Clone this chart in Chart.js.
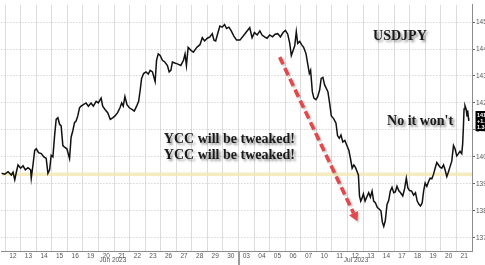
<!DOCTYPE html>
<html><head><meta charset="utf-8">
<script src="https://cdn.jsdelivr.net/npm/chart.js@4/dist/chart.umd.min.js"></script>
<style>html,body{margin:0;padding:0;background:#fff;overflow:hidden}#c{display:block}</style>
</head><body>
<canvas id="c" width="485" height="265"></canvas>
<script>
// ---- data (x = trading-day index, 0 = Jun 12; y = USDJPY) ----
const dayLabels = ['12','13','14','15','16','19','20','21','22','23','26','27','28','29','30',
                   '03','04','05','06','07','10','11','12','13','14','17','18','19','20','21'];
const monthLabels = ['Jun 2023','Jul 2023'];
const monthAt = [6.93, 22.55];
const monthBreak = 15;
const yTicks = [137,138,139,140,141,142,143,144,145];
const priceX = [-0.24,-0.02,0.19,0.40,0.51,0.62,0.72,0.83,1.00,1.15,
1.30,1.47,1.64,1.68,1.79,1.90,2.00,2.15,2.32,2.49,
2.64,2.75,2.86,2.96,3.07,3.18,3.28,3.39,3.50,3.60,
3.71,3.82,3.97,4.14,4.24,4.35,4.46,4.56,4.67,4.78,
4.88,5.03,5.20,5.35,5.52,5.67,5.85,5.99,6.17,6.27,
6.42,6.59,6.76,6.91,7.06,7.23,7.38,7.49,7.59,7.70,
7.83,7.98,8.15,8.30,8.45,8.58,8.68,8.77,8.90,9.05,
9.20,9.32,9.47,9.58,9.64,9.73,9.84,9.96,10.11,10.26,
10.43,10.54,10.65,10.75,10.90,11.07,11.29,11.46,11.56,11.65,
11.76,11.93,12.10,12.31,12.52,12.67,12.82,12.99,13.16,13.31,
13.42,13.53,13.68,13.80,13.95,14.10,14.23,14.38,14.53,14.70,
14.87,15.09,15.30,15.51,15.72,
15.87,16.02,16.20,16.37,16.51,16.67,16.83,17.00,17.18,17.35,
17.52,17.69,17.86,18.01,18.16,18.29,18.39,18.50,18.61,18.71,
18.80,18.93,19.05,19.18,19.33,19.46,19.55,19.63,19.74,19.84,
19.97,20.08,20.21,20.31,20.42,20.53,20.63,20.74,20.85,20.96,
21.11,21.26,21.36,21.47,21.58,21.70,21.83,21.96,22.09,22.19,
22.30,22.41,22.51,22.62,22.70,22.77,22.85,22.94,23.02,23.13,
23.24,23.36,23.47,23.58,23.68,23.79,23.92,24.05,24.15,24.24,
24.33,24.43,24.54,24.65,24.75,24.86,24.97,25.07,25.18,25.29,
25.41,25.55,25.67,25.78,25.88,25.99,26.12,26.25,26.37,26.48,
26.59,26.69,26.80,26.89,26.99,27.10,27.21,27.31,27.42,27.53,
27.63,27.74,27.85,27.95,28.06,28.17,28.27,28.38,28.48,28.59,
28.70,28.81,28.91,29.02,29.13,29.23,29.34,29.40,29.45,29.49,
29.55,29.62,29.68,29.72,29.77,29.79];
const priceY = [139.39,139.36,139.45,139.33,139.43,139.15,139.43,139.70,139.58,139.67,
139.52,139.60,139.52,139.21,139.70,140.24,140.30,140.16,140.12,140.00,
139.94,139.39,139.52,140.06,140.00,140.79,141.39,141.45,141.21,141.15,
140.42,140.36,140.30,139.94,140.73,140.97,141.27,141.33,141.52,141.82,
141.88,141.94,142.00,141.88,142.00,141.88,142.06,142.00,142.18,141.88,
141.76,141.64,141.39,141.45,141.52,141.64,141.82,142.00,141.88,142.24,
141.94,141.82,141.76,141.70,141.88,142.06,142.48,142.91,143.09,143.15,
143.07,143.21,143.15,142.91,142.79,143.58,143.82,143.76,143.58,143.52,
143.39,143.15,143.21,143.52,143.48,143.45,143.39,143.58,143.82,143.39,
144.06,143.96,143.88,144.06,144.16,144.42,144.30,144.40,144.45,144.57,
144.33,144.30,144.61,144.85,144.81,144.91,144.76,144.81,144.67,144.48,
144.33,144.33,144.48,144.64,144.79,
144.42,144.61,144.52,144.67,144.52,144.45,144.40,144.52,144.45,144.55,
144.57,144.45,144.61,144.69,144.55,144.21,143.76,143.94,144.12,144.64,
144.21,144.28,144.16,144.06,143.84,143.39,143.09,143.21,142.42,142.18,
142.12,142.22,142.48,142.91,142.95,142.67,142.55,142.42,142.00,141.52,
141.42,141.25,140.79,140.69,140.81,140.55,140.61,140.42,140.24,139.94,
139.58,139.70,139.61,139.45,139.33,138.55,138.36,138.48,138.63,138.36,
138.51,138.67,138.51,138.73,138.36,138.30,138.12,138.06,138.00,137.58,
137.42,137.64,138.24,138.39,138.73,138.87,138.67,138.70,138.91,138.75,
138.67,138.55,138.82,139.21,138.85,138.75,138.73,138.58,138.67,138.36,
138.24,138.18,138.30,138.73,139.03,138.91,139.09,139.21,139.19,139.36,
139.58,139.79,139.70,139.62,139.58,139.70,139.52,139.27,139.43,139.64,
139.84,140.42,140.30,140.04,140.12,140.21,140.12,140.48,141.15,141.78,
141.90,141.78,141.52,141.73,141.45,141.33];
const refLevel = 139.36;
const arrowFrom = [17.64, 143.70];
const arrowTo = [22.64, 137.61];
const priceBoxText = ['141.3', '+1.9', '1.3'];
const notes = [
  {text:'USDJPY', x:25.37, y:144.47, align:'center'},
  {text:'YCC will be tweaked!', x:10.2, y:140.65, align:'left'},
  {text:'YCC will be tweaked!', x:10.2, y:140.07, align:'left'},
  {text:"No it won't", x:24.54, y:141.31, align:'left'}
];

const X_MIN = -0.24, X_MAX = 30, Y_MIN = 136.51, Y_MAX = 145.636;
const tickFont = {family:'"Liberation Sans", Arial, sans-serif', size:6.5};

const extras = {
  id:'extras',
  afterDatasetsDraw(chart){
    const ctx = chart.ctx, xs = chart.scales.x, ys = chart.scales.y;
    // red dashed arrow
    const x1 = xs.getPixelForValue(arrowFrom[0]), y1 = ys.getPixelForValue(arrowFrom[1]);
    const x2 = xs.getPixelForValue(arrowTo[0]), y2 = ys.getPixelForValue(arrowTo[1]);
    const ang = Math.atan2(y2-y1, x2-x1);
    const hl = 9;
    const bx = x2 - Math.cos(ang)*hl, by = y2 - Math.sin(ang)*hl;
    ctx.save();
    ctx.shadowColor = 'rgba(0,0,0,0.22)'; ctx.shadowOffsetX = 1.5; ctx.shadowOffsetY = 1.5; ctx.shadowBlur = 2;
    ctx.strokeStyle = '#e2494d'; ctx.lineWidth = 3.6; ctx.setLineDash([8,4]); ctx.lineCap='butt';
    ctx.beginPath(); ctx.moveTo(x1,y1); ctx.lineTo(bx,by); ctx.stroke();
    ctx.setLineDash([]);
    ctx.fillStyle = '#e2494d';
    ctx.beginPath();
    ctx.moveTo(x2,y2);
    ctx.lineTo(bx + Math.cos(ang+Math.PI/2)*5, by + Math.sin(ang+Math.PI/2)*5);
    ctx.lineTo(bx - Math.cos(ang+Math.PI/2)*5, by - Math.sin(ang+Math.PI/2)*5);
    ctx.closePath(); ctx.fill();
    ctx.restore();
    // notes
    ctx.save();
    ctx.font = 'bold 14px "Liberation Serif", "Times New Roman", serif';
    ctx.textBaseline = 'middle';
    ctx.fillStyle = '#1a1a1a';
    ctx.shadowColor = 'rgba(0,0,0,0.45)'; ctx.shadowOffsetX = 2; ctx.shadowOffsetY = 2; ctx.shadowBlur = 2.5;
    notes.forEach(n => {
      ctx.textAlign = n.align;
      ctx.fillText(n.text, xs.getPixelForValue(n.x), ys.getPixelForValue(n.y));
    });
    ctx.restore();
  },
  afterDraw(chart){
    const ctx = chart.ctx, xs = chart.scales.x, ys = chart.scales.y, ca = chart.chartArea;
    ctx.save();
    // month separator
    const mx = Math.round(xs.getPixelForValue(monthBreak));
    ctx.fillStyle = '#9a9a9a';
    ctx.fillRect(mx-1, ca.bottom, 2, chart.height - ca.bottom);
    // month labels
    ctx.fillStyle = '#555';
    ctx.font = '6.5px "Liberation Sans", Arial, sans-serif';
    ctx.textAlign = 'center'; ctx.textBaseline = 'middle';
    monthLabels.forEach((m,i) => ctx.fillText(m, xs.getPixelForValue(monthAt[i]), 260));
    // last price box
    const last = priceY[priceY.length-1];
    const py = ys.getPixelForValue(last);
    ctx.fillStyle = '#000';
    ctx.fillRect(ca.right + 3.5, py - 10, 20, 20);
    ctx.fillStyle = '#fff';
    ctx.font = 'bold 5.5px "Liberation Sans", Arial, sans-serif';
    ctx.textAlign = 'left';
    priceBoxText.forEach((t,i) => ctx.fillText(t, ca.right + 5, py - 6 + i*6));
    ctx.restore();
  }
};

new Chart(document.getElementById('c'), {
  type:'line',
  data:{datasets:[
    {data:[{x:X_MIN,y:refLevel},{x:X_MAX,y:refLevel}], borderColor:'rgba(242,232,178,0.8)', borderWidth:3.5, pointRadius:0, order:2},
    {data:priceX.map((x,i)=>({x, y:priceY[i]})), borderColor:'#111', borderWidth:1.5, pointRadius:0, tension:0, order:1}
  ]},
  options:{
    responsive:false, animation:false, devicePixelRatio:1,
    layout:{padding:0},
    plugins:{legend:{display:false}, tooltip:{enabled:false}},
    scales:{
      x:{
        type:'linear', min:X_MIN, max:X_MAX,
        afterBuildTicks:s=>{ s.ticks = dayLabels.map((_,i)=>({value:i})).concat([{value:30}]); },
        afterFit:s=>{ s.height = 14; },
        ticks:{autoSkip:false, maxRotation:0, minRotation:0, labelOffset:7.8, padding:1.5, font:tickFont, color:'#555',
               callback:v=>dayLabels[v] ?? ''},
        grid:{color:'#dcdcdc', lineWidth:1, drawTicks:false},
        border:{color:'#8c8c8c', width:1}
      },
      y:{
        position:'right', min:Y_MIN, max:Y_MAX,
        afterBuildTicks:s=>{ s.ticks = yTicks.map(v=>({value:v})); },
        afterFit:s=>{ s.width = 13; },
        ticks:{font:tickFont, color:'#555', padding:1, callback:v=>String(v)},
        grid:{color:'#c4c4c4', lineWidth:1, drawTicks:true, tickLength:3, tickColor:'#666', tickBorderDash:[]},
        border:{color:'#8c8c8c', width:1, dash:[1,2]}
      }
    }
  },
  plugins:[extras]
});
</script>
</body></html>
